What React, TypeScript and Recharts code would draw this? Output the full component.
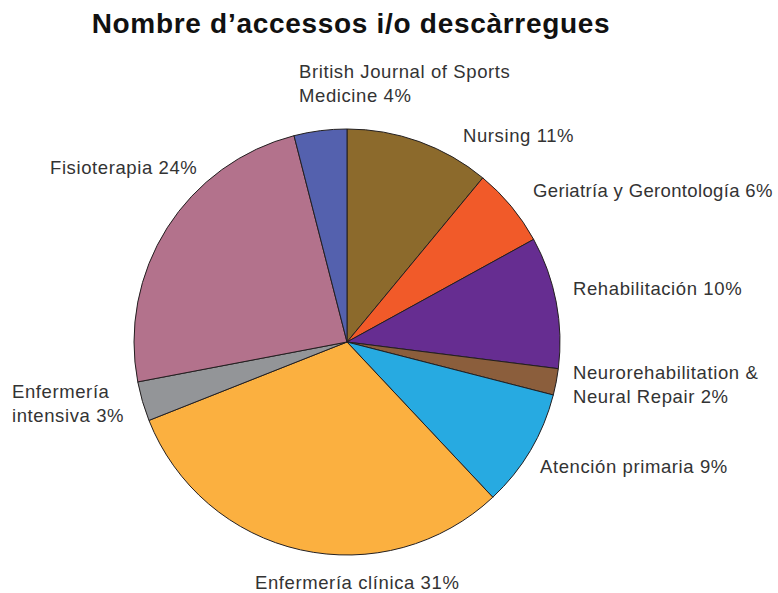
import React from 'react';
import { PieChart, Pie, Cell } from 'recharts';

const categories = [
  'Nursing',
  'Geriatría y Gerontología',
  'Rehabilitación',
  'Neurorehabilitation & Neural Repair',
  'Atención primaria',
  'Enfermería clínica',
  'Enfermería intensiva',
  'Fisioterapia',
  'British Journal of Sports Medicine',
];
const percents = [11, 6, 10, 2, 9, 31, 3, 24, 4];
const colors = [
  '#8C6A2C',
  '#F15A29',
  '#662D91',
  '#8B5E3C',
  '#27AAE1',
  '#FBB040',
  '#939598',
  '#B3728C',
  '#5461AE',
];
// label lines as printed (some labels wrap)
const labelLines = [
  ['Nursing 11%'],
  ['Geriatría y Gerontología 6%'],
  ['Rehabilitación 10%'],
  ['Neurorehabilitation &', 'Neural Repair 2%'],
  ['Atención primaria 9%'],
  ['Enfermería clínica 31%'],
  ['Enfermería', 'intensiva 3%'],
  ['Fisioterapia 24%'],
  ['British Journal of Sports', 'Medicine 4%'],
];

// label placement relative to pie centre: [dx, dy of first baseline]
const labelOffsets: Array<[number, number]> = [
  [116, -200],
  [186, -145],
  [226, -47],
  [226, 37],
  [193, 131],
  [-92, 247],
  [-335, 56],
  [-297, -168],
  [-48, -264],
];

const data = categories.map((name, i) => ({ name, value: percents[i] }));

const FONT = '"Liberation Sans", Arial, Helvetica, sans-serif';

function renderLabel(props: any) {
  const { cx, cy, index } = props;
  const [dx, dy] = labelOffsets[index];
  // the long right-hand label sits against the edge, keep it just inside
  const spacing = index === 1 ? 0.35 : 0.6;
  return (
    <text
      key={index}
      x={cx + dx}
      y={cy + dy}
      fill="#333333"
      fontSize={18.5}
      letterSpacing={spacing}
      fontFamily={FONT}
      textAnchor="start"
    >
      {labelLines[index].map((l, j) => (
        <tspan key={j} x={cx + dx} dy={j === 0 ? 0 : 24}>
          {l}
        </tspan>
      ))}
    </text>
  );
}

export default function App() {
  return (
    <div style={{ position: 'absolute', left: 0, top: 0, width: 778, height: 593, background: '#fff' }}>
      <PieChart width={778} height={593} margin={{ top: 0, right: 0, bottom: 0, left: 0 }}>
        <text
          x={351}
          y={33}
          textAnchor="middle"
          fontFamily={FONT}
          fontWeight="bold"
          fontSize={28}
          letterSpacing={0.7}
          fill="#111111"
        >
          Nombre d’accessos i/o descàrregues
        </text>
        <Pie
          data={data}
          dataKey="value"
          nameKey="name"
          cx={347}
          cy={342}
          outerRadius={213}
          startAngle={90}
          endAngle={-270}
          stroke="#231F20"
          strokeWidth={1}
          label={renderLabel}
          labelLine={false}
          isAnimationActive={false}
        >
          {data.map((d, i) => (
            <Cell key={d.name} fill={colors[i]} />
          ))}
        </Pie>
      </PieChart>
    </div>
  );
}
